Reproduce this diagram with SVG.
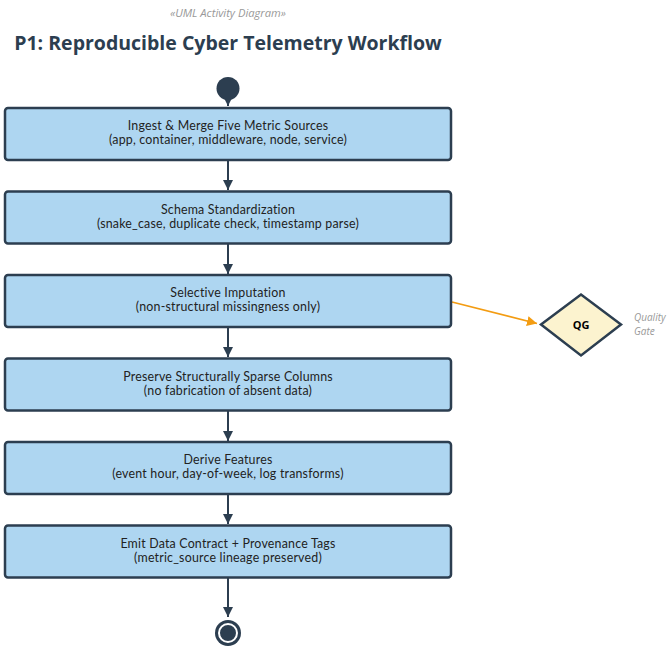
<svg xmlns="http://www.w3.org/2000/svg" width="668" height="646" viewBox="0 0 668 646">
  <defs>
    <style>
      .act rect { fill: #aed6f1; stroke: #2c3e50; stroke-width: 2.5; }
      .act text { font-family: Lato, "Open Sans", sans-serif; font-size: 12.4px; letter-spacing: 0.2px; fill: #222; text-anchor: middle; }
      .flow { stroke: #2c3e50; stroke-width: 2; fill: none; }
      .qflow { stroke: #f39c12; stroke-width: 1.8; fill: none; }
      .note { font-family: "Open Sans", "Noto Sans", sans-serif; font-size: 10px; font-style: italic; fill: #999; }
      .subtitle { font-size: 11.2px; text-anchor: middle; }
    </style>
    <marker id="arrowDark" viewBox="0 0 10 10" refX="10" refY="5" markerWidth="10" markerHeight="10" markerUnits="userSpaceOnUse" orient="auto">
      <path d="M0,0 L10,5 L0,10 z" fill="#2c3e50"/>
    </marker>
    <marker id="arrowOrange" viewBox="0 0 10 10" refX="10" refY="5" markerWidth="10" markerHeight="10" markerUnits="userSpaceOnUse" orient="auto">
      <path d="M0,0 L10,5 L0,10 z" fill="#f39c12"/>
    </marker>
  </defs>

  <rect width="668" height="646" fill="#ffffff"/>

  <!-- headings -->
  <text x="228" y="17" class="note subtitle">«UML Activity Diagram»</text>
  <text x="228" y="50" font-family="Open Sans, Noto Sans, sans-serif" font-size="19.5" font-weight="bold" fill="#2c3e50" text-anchor="middle">P1: Reproducible Cyber Telemetry Workflow</text>

  <!-- connectors -->
  <g id="connectors">
    <line class="flow" x1="228" y1="99" x2="228" y2="106" marker-end="url(#arrowDark)"/>
    <line class="flow" x1="228" y1="160" x2="228" y2="190" marker-end="url(#arrowDark)"/>
    <line class="flow" x1="228" y1="244" x2="228" y2="274" marker-end="url(#arrowDark)"/>
    <line class="flow" x1="228" y1="327" x2="228" y2="357" marker-end="url(#arrowDark)"/>
    <line class="flow" x1="228" y1="411" x2="228" y2="441" marker-end="url(#arrowDark)"/>
    <line class="flow" x1="228" y1="494" x2="228" y2="524" marker-end="url(#arrowDark)"/>
    <line class="flow" x1="228" y1="578" x2="228" y2="617" marker-end="url(#arrowDark)"/>
    <line class="qflow" x1="452" y1="302" x2="537" y2="323.5" marker-end="url(#arrowOrange)"/>
  </g>

  <!-- start -->
  <g id="start">
    <circle cx="228" cy="88.5" r="11.5" fill="#2c3e50"/>
  </g>

  <g id="ingest" class="act">
    <rect x="5" y="108" width="446" height="52" rx="3"/>
    <text x="228" y="130">Ingest &amp; Merge Five Metric Sources</text>
    <text x="228" y="144">(app, container, middleware, node, service)</text>
  </g>

  <g id="schema" class="act">
    <rect x="5" y="191.5" width="446" height="52" rx="3"/>
    <text x="228" y="213.5">Schema Standardization</text>
    <text x="228" y="227.5">(snake_case, duplicate check, timestamp parse)</text>
  </g>

  <g id="impute" class="act">
    <rect x="5" y="275" width="446" height="52" rx="3"/>
    <text x="228" y="297">Selective Imputation</text>
    <text x="228" y="311">(non-structural missingness only)</text>
  </g>

  <g id="preserve" class="act">
    <rect x="5" y="358.5" width="446" height="52" rx="3"/>
    <text x="228" y="380.5">Preserve Structurally Sparse Columns</text>
    <text x="228" y="394.5">(no fabrication of absent data)</text>
  </g>

  <g id="derive" class="act">
    <rect x="5" y="442" width="446" height="52" rx="3"/>
    <text x="228" y="464">Derive Features</text>
    <text x="228" y="478">(event hour, day-of-week, log transforms)</text>
  </g>

  <g id="emit" class="act">
    <rect x="5" y="525.5" width="446" height="52" rx="3"/>
    <text x="228" y="547.5">Emit Data Contract + Provenance Tags</text>
    <text x="228" y="561.5">(metric_source lineage preserved)</text>
  </g>

  <!-- quality gate -->
  <g id="quality-gate">
    <polygon points="541,324.5 581,294.5 621,324.5 581,355.5" fill="#fcf3cf" stroke="#2c3e50" stroke-width="2.5"/>
    <text x="581" y="329" font-family="Open Sans, Noto Sans, sans-serif" font-size="11" font-weight="bold" fill="#000" text-anchor="middle">QG</text>
    <text x="634" y="321" class="note">Quality</text>
    <text x="634" y="335" class="note">Gate</text>
  </g>

  <!-- end -->
  <g id="end">
    <circle cx="228" cy="633" r="13" fill="#2c3e50"/>
    <circle cx="228" cy="633" r="9" fill="none" stroke="#ffffff" stroke-width="2"/>
  </g>
</svg>
